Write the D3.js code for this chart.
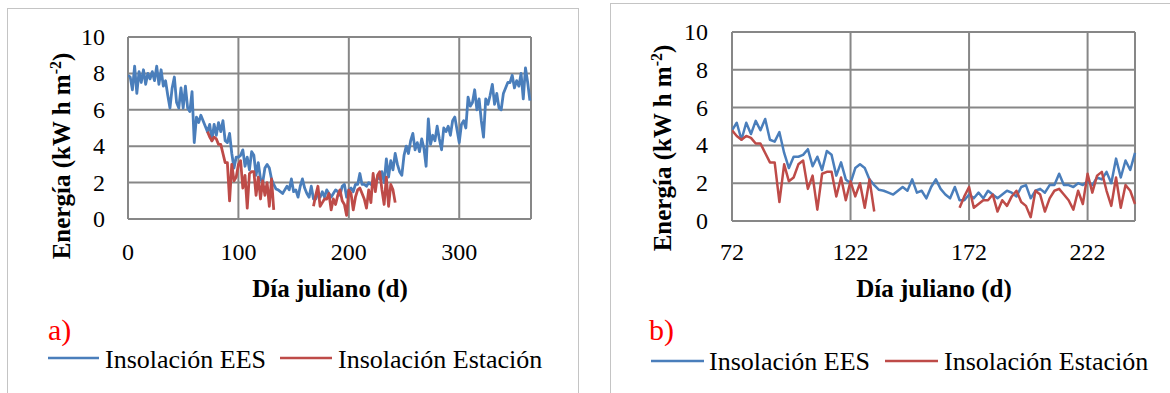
<!DOCTYPE html>
<html>
<head>
<meta charset="utf-8">
<script src="https://cdn.jsdelivr.net/npm/d3@7"></script>
<style>
  html, body { margin: 0; padding: 0; background: #fff; }
  svg { display: block; }
</style>
</head>
<body>
<svg id="chart" width="1170" height="393" font-family="'Liberation Serif', 'Times New Roman', Times, 'DejaVu Serif', serif"></svg>
<script>
// ---------------- DATA ----------------
// Día juliano sampled every 2 days
const eesDays = d3.range(0, 365, 2);          // 0,2,...,364
const eesValues = [
  // 0 - 70
  7.9, 7.8, 7.1, 8.4, 6.9, 8.1, 7.5, 8.2, 7.4, 8.0, 7.7, 8.1, 7.6, 8.4, 7.4, 8.2, 7.3, 7.6,
  6.8, 6.1, 7.2, 7.8, 6.4, 6.1, 7.2, 6.1, 7.3, 6.1, 5.9, 7.0, 4.2, 5.6, 5.3, 5.7, 5.4, 5.1,
  // 72 - 242
  4.8, 5.2, 4.3, 5.2, 4.6, 5.3, 4.8, 5.4, 4.3, 4.2, 4.7, 3.6, 2.8, 3.4, 3.4, 3.5, 3.8, 2.9,
  3.4, 2.7, 3.7, 3.5, 2.4, 3.1, 2.2, 2.0, 2.8, 3.0, 2.8, 2.2, 1.9, 1.65, 1.6, 1.5, 1.4, 1.6,
  1.8, 1.6, 2.2, 1.5, 1.6, 1.2, 1.8, 2.2, 1.7, 1.4, 1.2, 1.8, 1.1, 1.1, 1.4, 1.2, 1.5, 1.2,
  1.6, 1.4, 1.2, 1.4, 1.6, 1.5, 1.3, 1.8, 1.9, 1.2, 1.6, 1.7, 1.5, 1.9, 1.9, 2.5, 1.9, 1.9,
  1.8, 2.0, 1.9, 2.1, 1.9, 2.3, 2.2, 2.6, 2.0, 3.3, 2.3, 3.2, 2.7, 3.6,
  // 244 - 364
  3.0, 2.6, 2.4, 3.5, 4.0, 3.6, 4.3, 4.7, 3.8, 4.2, 3.7, 4.4, 3.9, 2.9, 5.5, 4.1, 4.6, 4.3,
  5.1, 4.4, 3.8, 5.0, 4.8, 5.1, 4.6, 5.4, 5.6, 4.9, 4.2, 5.2, 5.4, 5.0, 6.7, 6.2, 6.4, 7.1,
  6.0, 6.6, 5.4, 4.5, 6.6, 6.3, 6.8, 7.4, 6.3, 6.9, 6.1, 6.0, 6.9, 7.2, 7.5, 7.5, 7.9, 7.2,
  7.6, 7.3, 8.0, 6.6, 8.3, 7.5, 6.5
];

const stationDays = d3.range(72, 243, 2);     // 72,74,...,242
const stationValues = [
  // 72 - 132
  4.8, 4.5, 4.3, 4.5, 4.4, 4.1, 4.1, 3.6, 3.1, 3.1, 1.0, 3.0, 2.1, 2.3, 3.0, 3.2, 1.7, 2.4,
  0.6, 2.5, 2.6, 2.6, 1.3, 2.3, 1.1, 2.1, 1.3, 2.0, 0.7, 2.2, 0.5,
  // 134 - 166 (no data)
  null, null, null, null, null, null, null, null, null, null, null, null, null, null, null, null, null,
  // 168 - 242
  0.7, 1.3, 1.8, 0.7, 0.9, 1.1, 1.1, 1.4, 0.5, 1.1, 0.8, 1.3, 1.6, 1.0, 0.8, 0.2, 1.6, 1.4,
  0.5, 1.2, 1.6, 1.7, 1.4, 1.1, 0.6, 1.6, 0.9, 2.5, 1.5, 2.4, 2.6, 1.6, 0.8, 2.3, 0.7, 1.9,
  1.6, 0.9
];

const yTicks = [0, 2, 4, 6, 8, 10];
const xTicksA = [0, 100, 200, 300];
const xTicksB = [72, 122, 172, 222];
const seriesNames = ["Insolación EES", "Insolación Estación"];
const seriesColors = ["#4a7ebb", "#be4b48"];
const yTitle = "Energía (kW h m";
const xTitle = "Día juliano (d)";

// ---------------- LAYOUT ----------------
const FONT = "'Liberation Serif', 'Times New Roman', Times, 'DejaVu Serif', serif";
const panels = [
  { frame: [7, 8, 571, 400], x0: 128, x1: 531, y0: 37, y1: 219, xdom: [0, 365], xticks: xTicksA,
    yLabRight: 105, yTitleX: 70, yTitleCY: 156, xTitleCX: 330, tag: "a)", tagX: 48,
    leg: { l1: [48, 99], t1: 105, l2: [280, 332], t2: 338, ly: 358, ty: 368 }, lw: 2.8 },
  { frame: [610, 3, 600, 400], x0: 732, x1: 1135, y0: 32, y1: 221, xdom: [72, 242], xticks: xTicksB,
    yLabRight: 708, yTitleX: 671, yTitleCY: 148, xTitleCX: 934, tag: "b)", tagX: 649,
    leg: { l1: [651, 704], t1: 709, l2: [885, 938], t2: 944, ly: 361, ty: 370 }, lw: 2.5 }
];

const svg = d3.select("#chart");
svg.append("rect").attr("width", 1170).attr("height", 393).attr("fill", "#fff");

const eesData = eesDays.map((d, i) => ({ d, v: eesValues[i] }));
const stData = stationDays.map((d, i) => ({ d, v: stationValues[i] }));

panels.forEach(p => {
  const g = svg.append("g").attr("font-family", FONT);
  g.append("rect").attr("x", p.frame[0] + 0.5).attr("y", p.frame[1] + 0.5)
    .attr("width", p.frame[2]).attr("height", p.frame[3])
    .attr("fill", "none").attr("stroke", "#c4c4c4").attr("stroke-width", 1);

  const x = d3.scaleLinear().domain(p.xdom).range([p.x0, p.x1]);
  const y = d3.scaleLinear().domain([0, 10]).range([p.y1, p.y0]);

  // gridlines
  const gridColor = "#878787";
  g.selectAll(".hg").data(yTicks).enter().append("line")
    .attr("x1", p.x0).attr("x2", p.x1).attr("y1", d => y(d)).attr("y2", d => y(d))
    .attr("stroke", gridColor).attr("stroke-width", 2);
  g.selectAll(".vg").data(p.xticks.concat([p.xdom[1]])).enter().append("line")
    .attr("x1", d => x(d)).attr("x2", d => x(d)).attr("y1", p.y0).attr("y2", p.y1)
    .attr("stroke", gridColor).attr("stroke-width", 2);

  // y tick labels
  g.selectAll(".yl").data(yTicks).enter().append("text")
    .attr("x", p.yLabRight).attr("y", d => y(d) + 8)
    .attr("text-anchor", "end").attr("font-size", 24).attr("fill", "#000")
    .text(d => d);
  // x tick labels
  g.selectAll(".xl").data(p.xticks).enter().append("text")
    .attr("x", d => x(d)).attr("y", 260)
    .attr("text-anchor", "middle").attr("font-size", 24).attr("fill", "#000")
    .text(d => d);

  // lines
  const clipId = "clip" + p.tag[0];
  svg.append("clipPath").attr("id", clipId).append("rect")
    .attr("x", p.x0).attr("y", p.y0 - 5).attr("width", p.x1 - p.x0 + 2).attr("height", p.y1 - p.y0 + 10);
  const line = d3.line().defined(d => d.v !== null).x(d => x(d.d)).y(d => y(d.v));
  const inDom = a => a.filter(d => d.d >= p.xdom[0] && d.d <= p.xdom[1]);
  g.append("path").datum(inDom(eesData)).attr("d", line)
    .attr("fill", "none").attr("stroke", seriesColors[0]).attr("stroke-width", p.lw)
    .attr("stroke-linejoin", "round").attr("clip-path", `url(#${clipId})`);
  g.append("path").datum(inDom(stData)).attr("d", line)
    .attr("fill", "none").attr("stroke", seriesColors[1]).attr("stroke-width", p.lw)
    .attr("stroke-linejoin", "round").attr("clip-path", `url(#${clipId})`);

  // y title
  const yt = g.append("text")
    .attr("transform", `translate(${p.yTitleX},${p.yTitleCY}) rotate(-90)`)
    .attr("text-anchor", "middle").attr("font-size", 25).attr("font-weight", "bold").attr("fill", "#000");
  yt.append("tspan").text(yTitle);
  yt.append("tspan").attr("font-size", 16).attr("dy", -9).text("-2");
  yt.append("tspan").attr("dy", 9).text(")");

  // x title
  g.append("text").attr("x", p.xTitleCX).attr("y", 297)
    .attr("text-anchor", "middle").attr("font-size", 25).attr("font-weight", "bold").attr("fill", "#000")
    .text(xTitle);

  // tag
  g.append("text").attr("x", p.tagX).attr("y", 340)
    .attr("font-size", 30).attr("fill", "#ff0000").text(p.tag);

  // legend
  const L = p.leg;
  [[L.l1, L.t1], [L.l2, L.t2]].forEach((it, i) => {
    g.append("line").attr("x1", it[0][0]).attr("x2", it[0][1]).attr("y1", L.ly).attr("y2", L.ly)
      .attr("stroke", seriesColors[i]).attr("stroke-width", 2.5);
    g.append("text").attr("x", it[1]).attr("y", L.ty).attr("font-size", 26).attr("fill", "#000")
      .text(seriesNames[i]);
  });
});
</script>
</body>
</html>
